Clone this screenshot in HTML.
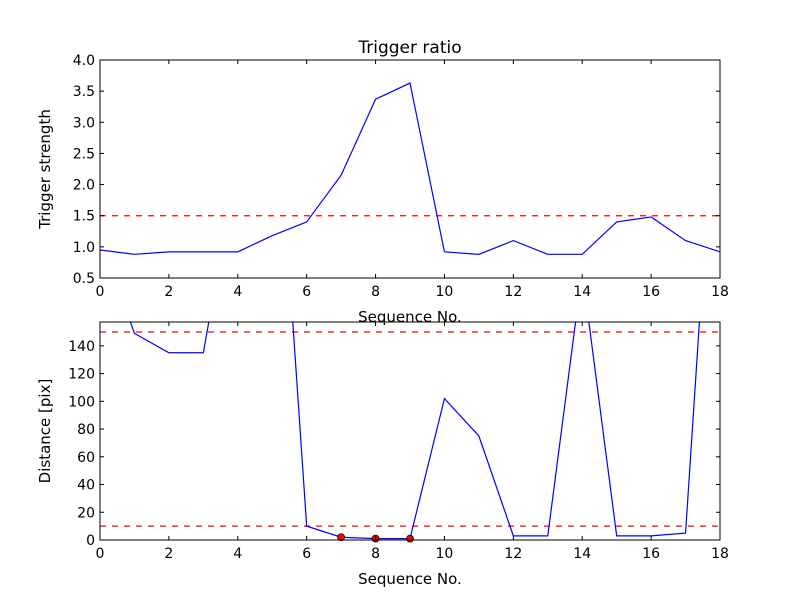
<!DOCTYPE html>
<html><head><meta charset="utf-8"><style>
body{margin:0;background:#fff}
svg text{font-family:"DejaVu Sans","Liberation Sans",sans-serif;fill:#000}
</style></head><body>
<svg id="c" width="800" height="600" xmlns="http://www.w3.org/2000/svg">
<rect width="800" height="600" fill="#fff"/>
</svg>
<script>
const xTicks=[0,2,4,6,8,10,12,14,16,18];
const topTicks=[0.5,1.0,1.5,2.0,2.5,3.0,3.5,4.0];
const botTicks=[0,20,40,60,80,100,120,140];
const seqX=[0,1,2,3,4,5,6,7,8,9,10,11,12,13,14,15,16,17,18];
const triggerStrength=[0.95,0.88,0.92,0.92,0.92,1.18,1.40,2.15,3.37,3.63,0.92,0.88,1.10,0.88,0.88,1.40,1.48,1.10,0.92];
const distance=[219,149,135,135,275,375,10,2,1,1,102,75,3,3,194,3,3,5,383];
const markX=[7,8,9];
const markY=[2,1,1];
const triggerThreshold=[1.5];
const distThresholds=[10,150];

const svg=document.getElementById('c');const NS='http://www.w3.org/2000/svg';
function mk(t,a,p){const e=document.createElementNS(NS,t);for(const k in a)e.setAttribute(k,a[k]);(p||svg).appendChild(e);return e;}
const L=100,R=720;
const sx=v=>L+v/18*(R-L);
function axes(top,bot,y0,y1,name){
  const sy=v=>bot-(v-y0)/(y1-y0)*(bot-top);
  const g=mk('g',{});
  const cid='clip'+name;
  const cp=mk('clipPath',{id:cid},g);mk('rect',{x:L,y:top,width:R-L,height:bot-top},cp);
  return {sy,g,cid,top,bot};
}
function frame(a,ticks,fmt,ylabel,title){
  const {g,sy,top,bot}=a;
  mk('rect',{x:L,y:top,width:R-L,height:bot-top,fill:'none',stroke:'#000','stroke-width':1},g);
  xTicks.forEach(v=>{const x=sx(v);
    mk('line',{x1:x,x2:x,y1:bot,y2:bot-4,stroke:'#000'},g);mk('line',{x1:x,x2:x,y1:top,y2:top+4,stroke:'#000'},g);
    const t=mk('text',{x:x,y:bot+18,'text-anchor':'middle','font-size':'14'},g);t.textContent=v;
    });
  ticks.forEach(v=>{const y=sy(v);
    mk('line',{x1:L,x2:L+4,y1:y,y2:y,stroke:'#000'},g);mk('line',{x1:R,x2:R-4,y1:y,y2:y,stroke:'#000'},g);
    const t=mk('text',{x:L-5,y:y+5,'text-anchor':'end','font-size':'14'},g);t.textContent=fmt(v);
    });
  const xl=mk('text',{x:410,y:bot+44,'text-anchor':'middle','font-size':'15'},g);xl.textContent='Sequence No.';
  
  const cy=(top+bot)/2;
  const yl=mk('text',{x:50,y:cy,'text-anchor':'middle','font-size':'15',transform:`rotate(-90 50 ${cy})`},g);yl.textContent=ylabel;
  
  if(title){const tt=mk('text',{x:410,y:top-7,'text-anchor':'middle','font-size':'17'},g);tt.textContent=title;
    }
}
const A=axes(60,278,0.5,4.0,'top-axes');
const cg1=mk('g',{'clip-path':`url(#${A.cid})`},A.g);
triggerThreshold.forEach(v=>{const l=mk('line',{x1:L,x2:R,y1:A.sy(v),y2:A.sy(v),stroke:'#f00','stroke-dasharray':'6,6','stroke-width':1.2},cg1);
  });
const p1=mk('polyline',{points:seqX.map((x,i)=>sx(x)+','+A.sy(triggerStrength[i])).join(' '),fill:'none',stroke:'#00f','stroke-width':1.2},cg1);

frame(A,topTicks,v=>v.toFixed(1),'Trigger strength','Trigger ratio');
const B=axes(322,540,0,157.2,'bottom-axes');
const cg2=mk('g',{'clip-path':`url(#${B.cid})`},B.g);
distThresholds.forEach(v=>{const l=mk('line',{x1:L,x2:R,y1:B.sy(v),y2:B.sy(v),stroke:'#f00','stroke-dasharray':'6,6','stroke-width':1.2},cg2);
  });
const p2=mk('polyline',{points:seqX.map((x,i)=>sx(x)+','+B.sy(distance[i])).join(' '),fill:'none',stroke:'#00f','stroke-width':1.2},cg2);

markX.forEach((x,i)=>{const c=mk('circle',{cx:sx(x),cy:B.sy(markY[i]),r:3.5,fill:'#f00',stroke:'#000','stroke-width':0.8},B.g);
  });
frame(B,botTicks,v=>String(v),'Distance [pix]',null);
</script>
</body></html>
